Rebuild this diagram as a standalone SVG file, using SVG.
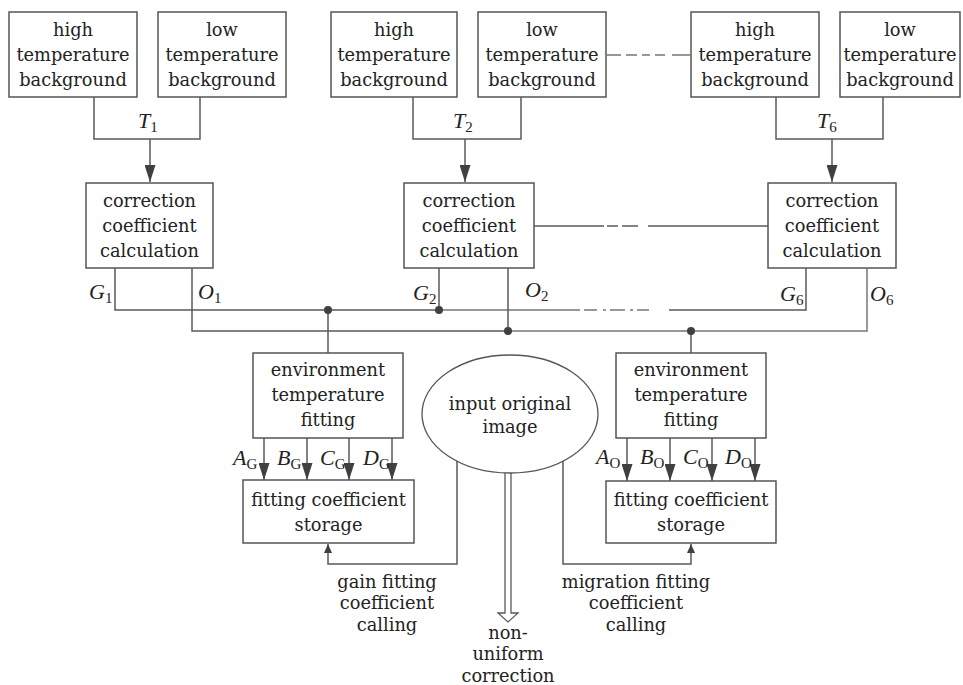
<svg xmlns="http://www.w3.org/2000/svg" width="963" height="685" viewBox="0 0 963 685">
<defs>
<marker id="arr" viewBox="0 0 17 11" refX="17" refY="5.5" markerWidth="17" markerHeight="11" markerUnits="userSpaceOnUse" orient="auto">
<path d="M0,0 L17,5.5 L0,11 z" fill="#404040"/>
</marker>
<marker id="arrs" viewBox="0 0 9 8" refX="9" refY="4" markerWidth="9" markerHeight="8" markerUnits="userSpaceOnUse" orient="auto">
<path d="M0,0 L9,4 L0,8 z" fill="#404040"/>
</marker>
</defs>
<style>
rect.b{fill:#fff;stroke:#555;stroke-width:1.5}
ellipse.b{fill:#fff;stroke:#555;stroke-width:1.3}
text{font-family:"DejaVu Serif","Liberation Serif",serif;font-size:17.8px;fill:#222;text-anchor:middle}
text.m{font-family:"Liberation Serif","DejaVu Serif",serif;font-size:22px;font-style:italic;text-anchor:start}
tspan.s{font-style:normal;font-size:15px}
.c path,.c line{fill:none;stroke:#5a5a5a;stroke-width:1.5}
.c .l{stroke:#777}
.c circle{fill:#404040}
</style>

<g id="hi1"><rect class="b" x="9" y="12" width="128" height="85"/><text x="73" y="36">high</text><text x="73" y="61">temperature</text><text x="73" y="86">background</text></g>
<g id="lo1"><rect class="b" x="158" y="12" width="128" height="85"/><text x="222" y="36">low</text><text x="222" y="61">temperature</text><text x="222" y="86">background</text></g>
<g id="hi2"><rect class="b" x="331" y="12" width="126" height="85"/><text x="394" y="36">high</text><text x="394" y="61">temperature</text><text x="394" y="86">background</text></g>
<g id="lo2"><rect class="b" x="478" y="12" width="128" height="85"/><text x="542" y="36">low</text><text x="542" y="61">temperature</text><text x="542" y="86">background</text></g>
<g id="hi6"><rect class="b" x="691" y="12" width="128" height="85"/><text x="755" y="36">high</text><text x="755" y="61">temperature</text><text x="755" y="86">background</text></g>
<g id="lo6"><rect class="b" x="840" y="12" width="120" height="85"/><text x="900" y="36">low</text><text x="900" y="61">temperature</text><text x="900" y="86">background</text></g>

<g id="cc1"><rect class="b" x="86" y="183" width="127" height="85"/><text x="149.5" y="207">correction</text><text x="149.5" y="232">coefficient</text><text x="149.5" y="257">calculation</text></g>
<g id="cc2"><rect class="b" x="404" y="183" width="130" height="85"/><text x="469" y="207">correction</text><text x="469" y="232">coefficient</text><text x="469" y="257">calculation</text></g>
<g id="cc6"><rect class="b" x="768" y="183" width="128" height="85"/><text x="832" y="207">correction</text><text x="832" y="232">coefficient</text><text x="832" y="257">calculation</text></g>

<g id="connectors" class="c">
<path d="M94,97 V139 H200 V97"/>
<path d="M413,97 V139 H521 V97"/>
<path d="M776,97 V139 H883 V97"/>
<line x1="150" y1="139" x2="150" y2="182" marker-end="url(#arr)"/>
<line x1="465" y1="139" x2="465" y2="182" marker-end="url(#arr)"/>
<line x1="832" y1="139" x2="832" y2="182" marker-end="url(#arr)"/>
<path class="l" d="M606,55 H621 M626,55 H637 M642,55 H650 M655,55 H665 M672,55 H691"/>
<path d="M534,226 H604 M607,226 H618 M622,226 H638 M648,226 H768"/>
<path d="M115,268 V310 H439"/>
<path class="l" d="M439,310 H580 M584,310 H597 M603,310 H606 M610,310 H625 M630,310 H633 M637,310 H649"/>
<path d="M669,310 H806 V268"/>
<path d="M439,268 V310"/>
<path d="M192,268 V331 H508"/>
<path class="l" d="M508,331 H867 V268"/>
<path d="M508,268 V331"/>
<path d="M328,310 V353"/>
<path d="M691,331 V353"/>
<circle cx="328" cy="310" r="4"/>
<circle cx="439" cy="310" r="4"/>
<circle cx="508" cy="331" r="4"/>
<circle cx="691" cy="331" r="4"/>
<line x1="264" y1="438" x2="264" y2="480" marker-end="url(#arr)"/>
<line x1="307" y1="438" x2="307" y2="480" marker-end="url(#arr)"/>
<line x1="349" y1="438" x2="349" y2="480" marker-end="url(#arr)"/>
<line x1="392" y1="438" x2="392" y2="480" marker-end="url(#arr)"/>
<line x1="627" y1="438" x2="627" y2="481" marker-end="url(#arr)"/>
<line x1="670" y1="438" x2="670" y2="481" marker-end="url(#arr)"/>
<line x1="712" y1="438" x2="712" y2="481" marker-end="url(#arr)"/>
<line x1="755" y1="438" x2="755" y2="481" marker-end="url(#arr)"/>
<path d="M457,461 V564 H328 V544" marker-end="url(#arrs)"/>
<path d="M563,461 V564 H691 V544" marker-end="url(#arrs)"/>
<path d="M505,472 V613 H498 L508,622 L518,613 H511 V472" style="fill:#fff;stroke-width:1.3"/>
</g>

<g id="labels">
<text class="m" x="138" y="128">T<tspan class="s" dy="4">1</tspan></text>
<text class="m" x="453" y="128">T<tspan class="s" dy="4">2</tspan></text>
<text class="m" x="817" y="128">T<tspan class="s" dy="4">6</tspan></text>
<text class="m" x="89" y="299">G<tspan class="s" dy="4">1</tspan></text>
<text class="m" x="198" y="299">O<tspan class="s" dy="4">1</tspan></text>
<text class="m" x="413" y="300">G<tspan class="s" dy="4">2</tspan></text>
<text class="m" x="525" y="297">O<tspan class="s" dy="4">2</tspan></text>
<text class="m" x="780" y="301">G<tspan class="s" dy="4">6</tspan></text>
<text class="m" x="870" y="301">O<tspan class="s" dy="4">6</tspan></text>
<text class="m" x="233" y="465">A<tspan class="s" dy="4">G</tspan></text>
<text class="m" x="277" y="465">B<tspan class="s" dy="4">G</tspan></text>
<text class="m" x="320" y="465">C<tspan class="s" dy="4">G</tspan></text>
<text class="m" x="363" y="465">D<tspan class="s" dy="4">G</tspan></text>
<text class="m" x="596" y="464">A<tspan class="s" dy="4">O</tspan></text>
<text class="m" x="640" y="464">B<tspan class="s" dy="4">O</tspan></text>
<text class="m" x="683" y="464">C<tspan class="s" dy="4">O</tspan></text>
<text class="m" x="725" y="464">D<tspan class="s" dy="4">O</tspan></text>
</g>

<g id="envG"><rect class="b" x="253" y="353" width="150" height="85"/><text x="328" y="376">environment</text><text x="328" y="401">temperature</text><text x="328" y="426">fitting</text></g>
<g id="envO"><rect class="b" x="616" y="353" width="150" height="85"/><text x="691" y="376">environment</text><text x="691" y="401">temperature</text><text x="691" y="426">fitting</text></g>
<g id="storeG"><rect class="b" x="243" y="480" width="171" height="63"/><text x="328.5" y="506">fitting coefficient</text><text x="328.5" y="531">storage</text></g>
<g id="storeO"><rect class="b" x="606" y="481" width="170" height="62"/><text x="691" y="506">fitting coefficient</text><text x="691" y="531">storage</text></g>
<g id="input"><ellipse class="b" cx="510" cy="414" rx="88" ry="59"/><text x="510" y="410">input original</text><text x="510" y="433">image</text></g>

<g id="gainCall"><text x="387" y="588">gain fitting</text><text x="387" y="609">coefficient</text><text x="387" y="631">calling</text></g>
<g id="migCall"><text x="636" y="588">migration fitting</text><text x="636" y="609">coefficient</text><text x="636" y="631">calling</text></g>
<g id="nonuni"><text x="508" y="639">non-</text><text x="508" y="660">uniform</text><text x="508" y="682">correction</text></g>
</svg>
